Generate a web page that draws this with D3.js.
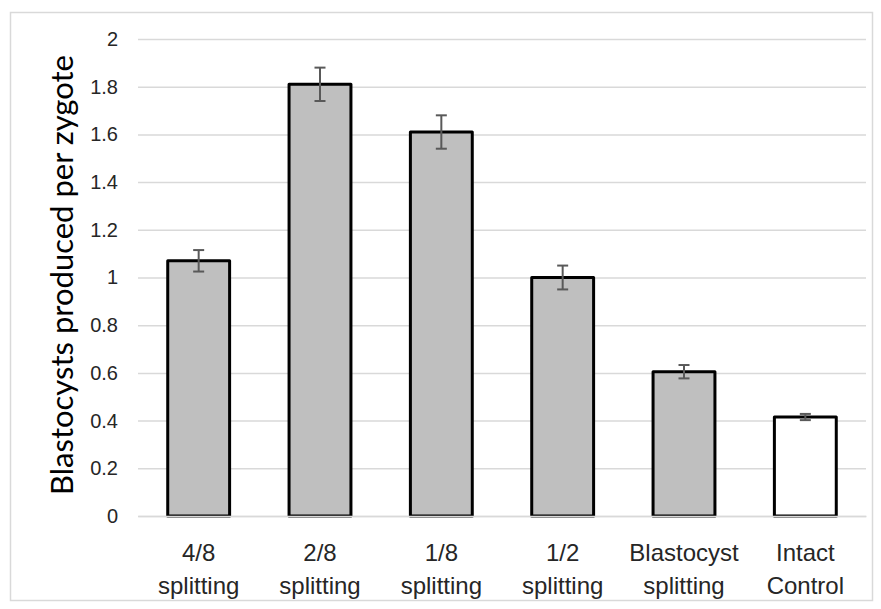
<!DOCTYPE html>
<html>
<head>
<meta charset="utf-8">
<script src="https://cdn.jsdelivr.net/npm/d3@7"></script>
<style>
  html, body { margin: 0; padding: 0; background: #fff; }
  svg { display: block; font-family: Lato, "Open Sans", sans-serif; }
</style>
</head>
<body>
<svg id="chart" width="881" height="609"></svg>
<script>
// Blastocyst yield per zygote by splitting method
const categories = [
  ["4/8", "splitting"],
  ["2/8", "splitting"],
  ["1/8", "splitting"],
  ["1/2", "splitting"],
  ["Blastocyst", "splitting"],
  ["Intact", "Control"]
];
const values = [1.07, 1.81, 1.61, 1.0, 0.605, 0.415];
const errors = [0.045, 0.07, 0.07, 0.05, 0.028, 0.013];
const fills = ["#bfbfbf", "#bfbfbf", "#bfbfbf", "#bfbfbf", "#bfbfbf", "#ffffff"];
const yTicks = [0, 0.2, 0.4, 0.6, 0.8, 1, 1.2, 1.4, 1.6, 1.8, 2];
const yTitle = "Blastocysts produced per zygote";

const svg = d3.select("#chart");

// outer frame
svg.append("rect")
  .attr("x", 10.5).attr("y", 12.5)
  .attr("width", 862).attr("height", 588)
  .attr("fill", "none").attr("stroke", "#d9d9d9").attr("stroke-width", 1.5);

const plot = { left: 138, right: 866, top: 39, bottom: 516 };

const x = d3.scaleBand()
  .domain(d3.range(categories.length))
  .range([plot.left, plot.right])
  .paddingInner(0.49).paddingOuter(0.245);

const y = d3.scaleLinear().domain([0, 2]).range([plot.bottom, plot.top]);

// y axis: gridlines + labels
const yAxis = d3.axisLeft(y)
  .tickValues(yTicks)
  .tickSize(-(plot.right - plot.left))
  .tickPadding(20)
  .tickFormat(d3.format("~g"));

const gy = svg.append("g")
  .attr("transform", `translate(${plot.left},0)`)
  .call(yAxis);
gy.select(".domain").remove();
gy.selectAll(".tick line").attr("stroke", "#d9d9d9").attr("stroke-width", 1.5);
gy.selectAll(".tick text")
  .attr("fill", "#262626").attr("font-size", 20);

// bars
svg.append("g").selectAll("rect")
  .data(values)
  .join("rect")
  .attr("x", (d, i) => x(i))
  .attr("y", d => y(d))
  .attr("width", x.bandwidth())
  .attr("height", d => y(0) - y(d))
  .attr("fill", (d, i) => fills[i])
  .attr("stroke", "#000")
  .attr("stroke-width", 3)
  .attr("stroke-linejoin", "round");

// error bars
const eg = svg.append("g").attr("stroke", "#595959").attr("stroke-width", 2);
values.forEach((v, i) => {
  const cx = x(i) + x.bandwidth() / 2;
  const top = y(v + errors[i]);
  const bot = y(v - errors[i]);
  eg.append("line").attr("x1", cx).attr("x2", cx).attr("y1", top).attr("y2", bot);
  eg.append("line").attr("x1", cx - 5.5).attr("x2", cx + 5.5).attr("y1", top).attr("y2", top);
  eg.append("line").attr("x1", cx - 5.5).attr("x2", cx + 5.5).attr("y1", bot).attr("y2", bot);
});

// x axis labels (two lines)
const xAxis = d3.axisBottom(x).tickSize(0).tickFormat(() => "");
const gx = svg.append("g")
  .attr("transform", `translate(0,${plot.bottom})`)
  .call(xAxis);
gx.select(".domain").attr("stroke", "#d9d9d9").attr("stroke-width", 1.5);
gx.selectAll(".tick").each(function(d) {
  const t = d3.select(this).append("text")
    .attr("fill", "#262626")
    .attr("font-size", 24)
    .attr("text-anchor", "middle");
  categories[d].forEach((line, k) => {
    t.append("tspan").attr("x", 0).attr("y", 45 + k * 33).text(line);
  });
});

// y title
svg.append("text")
  .attr("transform", `translate(73,275) rotate(-90)`)
  .attr("text-anchor", "middle")
  .attr("fill", "#000")
  .attr("font-size", 31)
  .text(yTitle);
</script>
</body>
</html>
